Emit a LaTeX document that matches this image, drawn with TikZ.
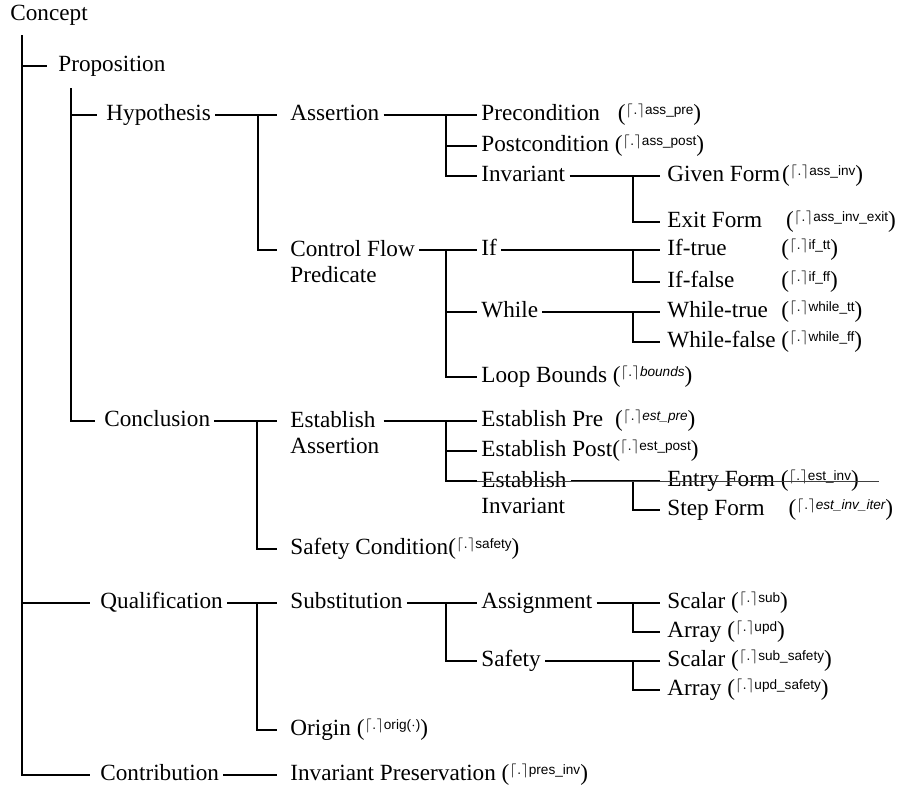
\documentclass[tikz,border=0pt]{standalone}
\usepackage{fontspec}
\setmainfont{Liberation Serif}
\newfontfamily\lblfont{Liberation Sans}
\newcommand{\lbl}[1]{(\raisebox{0.6ex}{\lblfont\fontsize{6.8}{7}\selectfont$\lceil.\rceil$#1})}
\tikzset{
    item/.style={anchor=west,inner xsep=2pt,inner ysep=0pt,text height=8pt,text depth=2.5pt,font=\fontsize{11.6}{13}\selectfont},
    twoline/.style={anchor=north west,inner xsep=2pt,inner ysep=0pt,align=left,font=\fontsize{11.6}{13}\selectfont},
    lead/.style={execute at begin node={\hspace*{#1}}},
    link/.style={line width=0.6pt},
    strike/.style={line width=0.45pt,black!75},
    }
\begin{document}
\begin{tikzpicture}[x=0.5pt,y=-0.5pt]
        \useasboundingbox (0,0) rectangle (914,794);
        % level 0 and 1
		\node[item] (concept) at (6,15) {Concept};
		\node[item,lead=3.5pt] (prop) at (47,66) {Proposition};
		\node[item,lead=2.5pt] (hyp) at (97,115) {Hypothesis};
		\node[item,lead=2.5pt] (concl) at (95,421) {Conclusion};
		\node[item,lead=3pt] (qual) at (90,603) {Qualification};
		\node[item,lead=3pt] (contr) at (90,775) {Contribution};
        % level 2
		\node[item,lead=4.5pt] (assert) at (277,115) {Assertion};
		\node[twoline] (cfp) at (286,239.5) {Control Flow\\Predicate};
		\node[twoline] (estass) at (286,410.5) {Establish\\Assertion};
		\node[item,lead=4.5pt] (safecond) at (277,549) {Safety Condition\lbl{safety}};
		\node[item,lead=4.5pt] (subst) at (277,603) {Substitution};
		\node[item,lead=4.5pt] (origin) at (277,730) {Origin \lbl{orig($\cdot$)}};
		\node[item,lead=4.5pt] (invpres) at (277,775) {Invariant Preservation \lbl{pres\_inv}};
        % level 3
		\node[item] (pre) at (477,115) {Precondition\hspace{9pt}\lbl{ass\_pre}};
		\node[item] (post) at (477,146) {Postcondition \lbl{ass\_post}};
		\node[item] (inv) at (477,176) {Invariant};
		\node[item] (cif) at (477,250) {If};
		\node[item] (cwhile) at (477,312) {While};
		\node[item] (loopb) at (477,377) {Loop Bounds \lbl{\itshape bounds}};
		\node[item] (epre) at (477,421) {Establish Pre\hspace{6pt}\lbl{\itshape est\_pre}};
		\node[item] (epost) at (477,451) {Establish Post\lbl{est\_post}};
		\node[twoline] (einv) at (477,470.5) {Establish\\Invariant};
		\node[item] (assign) at (477,603) {Assignment};
		\node[item] (safety) at (477,661) {Safety};
        % level 4
		\node[item,lead=1.5pt] (given) at (660,176) {Given Form\hspace{1pt}\lbl{ass\_inv}};
		\node[item,lead=1.5pt] (exitf) at (660,222) {Exit Form\hspace{12pt}\lbl{ass\_inv\_exit}};
		\node[item,lead=1.5pt] (iftrue) at (660,250) {\makebox[57pt][l]{If-true}\lbl{if\_tt}};
		\node[item,lead=1.5pt] (iffalse) at (660,282) {\makebox[57pt][l]{If-false}\lbl{if\_ff}};
		\node[item,lead=1.5pt] (wtrue) at (660,312) {\makebox[57pt][l]{While-true}\lbl{while\_tt}};
		\node[item,lead=1.5pt] (wfalse) at (660,342) {While-false \lbl{while\_ff}};
		\node[item,lead=1.5pt] (entry) at (660,481) {Entry Form \lbl{est\_inv}};
		\node[item,lead=1.5pt] (step) at (660,510) {Step Form\hspace{12pt}\lbl{\itshape est\_inv\_iter}};
		\node[item,lead=1.5pt] (scalar1) at (660,603) {Scalar \lbl{sub}};
		\node[item,lead=1.5pt] (array1) at (660,632) {Array \lbl{upd}};
		\node[item,lead=1.5pt] (scalar2) at (660,661) {Scalar \lbl{sub\_safety}};
		\node[item,lead=1.5pt] (array2) at (660,690) {Array \lbl{upd\_safety}};

        % first-line rows of the two-line nodes
        \coordinate (cfp-r) at ([xshift=-4.5pt,yshift=-5.25pt]cfp.north west);
        \coordinate (estass-r) at ([xshift=-4.5pt,yshift=-5.25pt]estass.north west);
        \coordinate (einv-r) at ([yshift=-5.25pt]einv.north west);

        % stems
        \coordinate (s0) at ([xshift=8pt,yshift=-4.75pt]concept.south west);
        \coordinate (s1) at ([xshift=12pt,yshift=-5.75pt]prop.south west);
        \coordinate (s-hyp) at ([xshift=-9.5pt]assert.west);
        \coordinate (s-concl) at ([xshift=-10pt]estass-r);
        \coordinate (s-qual) at ([xshift=-10pt]subst.west);
        \coordinate (s-assert) at ([xshift=-15.5pt]pre.west);
        \coordinate (s-cfp) at ([xshift=-15.5pt]cif.west);
        \coordinate (s-estass) at ([xshift=-15.5pt]epre.west);
        \coordinate (s-subst) at ([xshift=-15.5pt]assign.west);
        \coordinate (s-inv) at ([xshift=-13.5pt]given.west);
        \coordinate (s-if) at ([xshift=-13.5pt]iftrue.west);
        \coordinate (s-while) at ([xshift=-13.5pt]wtrue.west);
        \coordinate (s-einv) at ([xshift=-13.5pt]entry.west);
        \coordinate (s-assign) at ([xshift=-13.5pt]scalar1.west);
        \coordinate (s-safety) at ([xshift=-13.5pt]scalar2.west);

		\draw[link] (s0) |- (contr.west);
		\draw[link] (s0 |- prop.west) -- (prop.west);
		\draw[link] (s0 |- qual.west) -- (qual.west);
		\draw[link] (s1) |- (concl.west);
		\draw[link] (s1 |- hyp.west) -- (hyp.west);

		\draw[link] (hyp.east) -- (assert.west);
		\draw[link] (s-hyp) |- (cfp-r);
		\draw[link] (concl.east) -- (estass-r);
		\draw[link] (s-concl) |- (safecond.west);
		\draw[link] (qual.east) -- (subst.west);
		\draw[link] (s-qual) |- (origin.west);
		\draw[link] (contr.east) -- (invpres.west);

		\draw[link] (assert.east) -- (pre.west);
		\draw[link] (s-assert) |- (inv.west);
		\draw[link] (s-assert |- post.west) -- (post.west);
		\draw[link] (cfp.east |- cfp-r) -- (cif.west);
		\draw[link] (s-cfp) |- (loopb.west);
		\draw[link] (s-cfp |- cwhile.west) -- (cwhile.west);
		\draw[link] (estass.east |- estass-r) -- (epre.west);
		\draw[link] (s-estass) |- (einv-r);
		\draw[link] (s-estass |- epost.west) -- (epost.west);
		\draw[link] (subst.east) -- (assign.west);
		\draw[link] (s-subst) |- (safety.west);

		\draw[link] (inv.east) -- (given.west);
		\draw[link] (s-inv) |- (exitf.west);
		\draw[link] (cif.east) -- (iftrue.west);
		\draw[link] (s-if) |- (iffalse.west);
		\draw[link] (cwhile.east) -- (wtrue.west);
		\draw[link] (s-while) |- (wfalse.west);
		\draw[link] (einv.east |- einv-r) -- (entry.west);
		\draw[link] (s-einv) |- (step.west);
		\draw[link] (assign.east) -- (scalar1.west);
		\draw[link] (s-assign) |- (array1.west);
		\draw[link] (safety.east) -- (scalar2.west);
		\draw[link] (s-safety) |- (array2.west);

        \draw[strike] (einv-r) -- ([xshift=8pt]entry.east);
    \end{tikzpicture}
\end{document}
